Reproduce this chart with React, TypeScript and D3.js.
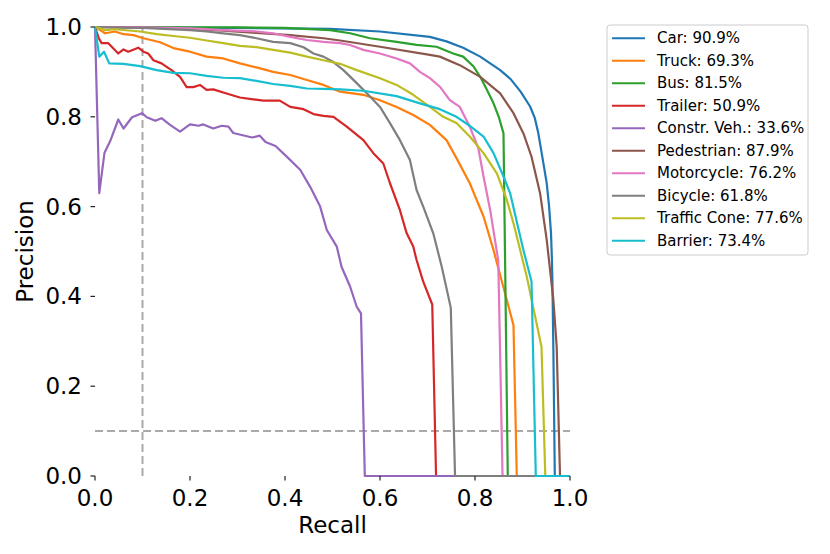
import * as d3 from "d3";

type Pt = [number, number];

// [recall, precision]
const car: Pt[] = [
  [0, 1], [0.1, 0.999], [0.3, 0.998], [0.495, 0.996], [0.6, 0.99], [0.705, 0.978],
  [0.74, 0.968], [0.775, 0.954], [0.811, 0.934], [0.853, 0.904], [0.875, 0.884],
  [0.896, 0.856], [0.916, 0.823], [0.926, 0.797], [0.933, 0.765], [0.939, 0.728],
  [0.945, 0.69], [0.951, 0.652], [0.956, 0.6], [0.96, 0.541], [0.962, 0.48],
  [0.963, 0.43], [0.965, 0.281], [0.968, 0], [1, 0],
];
const truck: Pt[] = [
  [0, 1], [0.011, 0.993], [0.021, 0.986], [0.042, 0.99], [0.06, 0.984], [0.081, 0.982],
  [0.102, 0.975], [0.137, 0.966], [0.165, 0.953], [0.2, 0.945], [0.235, 0.934],
  [0.27, 0.93], [0.305, 0.919], [0.34, 0.91], [0.375, 0.9], [0.411, 0.893],
  [0.446, 0.882], [0.481, 0.871], [0.516, 0.856], [0.565, 0.849], [0.6, 0.837],
  [0.635, 0.822], [0.67, 0.804], [0.705, 0.782], [0.74, 0.748], [0.761, 0.708],
  [0.789, 0.652], [0.818, 0.578], [0.839, 0.503], [0.867, 0.392], [0.881, 0.336],
  [0.888, 0], [1, 0],
];
const bus: Pt[] = [
  [0, 1], [0.1, 0.999], [0.3, 0.999], [0.4, 0.998], [0.495, 0.993], [0.537, 0.986],
  [0.579, 0.975], [0.635, 0.967], [0.677, 0.96], [0.719, 0.956], [0.754, 0.941],
  [0.775, 0.934], [0.797, 0.912], [0.811, 0.889], [0.825, 0.86], [0.839, 0.83],
  [0.85, 0.8], [0.86, 0.763], [0.869, 0], [1, 0],
];
const trailer: Pt[] = [
  [0, 1], [0.008, 0.975], [0.014, 0.964], [0.028, 0.964], [0.049, 0.941], [0.06, 0.95],
  [0.07, 0.945], [0.091, 0.954], [0.102, 0.945], [0.112, 0.941], [0.123, 0.926],
  [0.14, 0.919], [0.161, 0.904], [0.179, 0.889], [0.193, 0.866], [0.207, 0.866],
  [0.221, 0.871], [0.235, 0.86], [0.249, 0.861], [0.277, 0.852], [0.305, 0.843],
  [0.333, 0.839], [0.354, 0.836], [0.389, 0.836], [0.411, 0.822], [0.439, 0.817],
  [0.46, 0.806], [0.481, 0.802], [0.502, 0.8], [0.53, 0.778], [0.565, 0.748],
  [0.586, 0.719], [0.607, 0.696], [0.621, 0.652], [0.642, 0.592], [0.656, 0.541],
  [0.67, 0.511], [0.677, 0.481], [0.691, 0.433], [0.71, 0.382], [0.718, 0], [1, 0],
];
const constrVeh: Pt[] = [
  [0, 1], [0.009, 0.63], [0.02, 0.72], [0.032, 0.746], [0.049, 0.794], [0.06, 0.774],
  [0.078, 0.799], [0.099, 0.808], [0.109, 0.799], [0.127, 0.791], [0.14, 0.797],
  [0.158, 0.782], [0.179, 0.767], [0.2, 0.783], [0.218, 0.78], [0.228, 0.783],
  [0.249, 0.774], [0.267, 0.78], [0.281, 0.778], [0.291, 0.764], [0.331, 0.754],
  [0.347, 0.758], [0.359, 0.744], [0.38, 0.735], [0.402, 0.713], [0.432, 0.682],
  [0.453, 0.644], [0.474, 0.6], [0.488, 0.548], [0.509, 0.511], [0.519, 0.466],
  [0.537, 0.422], [0.551, 0.377], [0.56, 0.362], [0.568, 0], [1, 0],
];
const pedestrian: Pt[] = [
  [0, 1], [0.1, 0.999], [0.2, 0.995], [0.27, 0.992], [0.34, 0.987], [0.411, 0.982],
  [0.481, 0.975], [0.516, 0.97], [0.6, 0.956], [0.705, 0.938], [0.726, 0.934],
  [0.768, 0.915], [0.811, 0.889], [0.853, 0.852], [0.881, 0.808], [0.902, 0.763],
  [0.919, 0.711], [0.937, 0.63], [0.951, 0.526], [0.965, 0.392], [0.972, 0.288],
  [0.979, 0], [1, 0],
];
const motorcycle: Pt[] = [
  [0, 1], [0.1, 0.999], [0.2, 0.997], [0.27, 0.993], [0.34, 0.99], [0.375, 0.986],
  [0.411, 0.978], [0.446, 0.971], [0.481, 0.967], [0.516, 0.964], [0.537, 0.96],
  [0.565, 0.949], [0.6, 0.941], [0.635, 0.93], [0.663, 0.919], [0.684, 0.9],
  [0.705, 0.886], [0.726, 0.867], [0.747, 0.837], [0.768, 0.822], [0.789, 0.778],
  [0.807, 0.73], [0.818, 0.667], [0.832, 0.592], [0.849, 0.48], [0.858, 0], [1, 0],
];
const bicycle: Pt[] = [
  [0, 1], [0.1, 0.998], [0.2, 0.993], [0.235, 0.99], [0.27, 0.986], [0.305, 0.982],
  [0.34, 0.975], [0.375, 0.967], [0.411, 0.964], [0.439, 0.955], [0.46, 0.941],
  [0.481, 0.934], [0.502, 0.922], [0.523, 0.904], [0.551, 0.875], [0.579, 0.845],
  [0.6, 0.822], [0.621, 0.786], [0.642, 0.748], [0.663, 0.704], [0.677, 0.637],
  [0.691, 0.6], [0.712, 0.541], [0.73, 0.466], [0.749, 0.375], [0.758, 0], [1, 0],
];
const trafficCone: Pt[] = [
  [0, 1], [0.011, 0.997], [0.021, 0.993], [0.042, 0.995], [0.095, 0.99], [0.13, 0.984],
  [0.165, 0.98], [0.2, 0.976], [0.235, 0.97], [0.27, 0.964], [0.305, 0.958],
  [0.34, 0.955], [0.375, 0.949], [0.411, 0.943], [0.446, 0.934], [0.481, 0.926],
  [0.516, 0.918], [0.551, 0.904], [0.6, 0.886], [0.635, 0.871], [0.67, 0.849],
  [0.705, 0.822], [0.733, 0.8], [0.761, 0.786], [0.789, 0.756], [0.818, 0.719],
  [0.846, 0.674], [0.867, 0.615], [0.881, 0.563], [0.909, 0.444], [0.94, 0.288],
  [0.948, 0], [1, 0],
];
const barrier: Pt[] = [
  [0, 1], [0.009, 0.934], [0.019, 0.945], [0.03, 0.919], [0.06, 0.918], [0.095, 0.913],
  [0.13, 0.904], [0.165, 0.898], [0.2, 0.897], [0.235, 0.891], [0.27, 0.887],
  [0.305, 0.886], [0.34, 0.88], [0.375, 0.873], [0.411, 0.869], [0.446, 0.863],
  [0.481, 0.862], [0.516, 0.861], [0.565, 0.858], [0.635, 0.846], [0.684, 0.83],
  [0.726, 0.817], [0.761, 0.8], [0.789, 0.78], [0.818, 0.756], [0.839, 0.719],
  [0.86, 0.667], [0.874, 0.63], [0.902, 0.503], [0.919, 0.433], [0.928, 0], [1, 0],
];

const classNames = [
  "Car", "Truck", "Bus", "Trailer", "Constr. Veh.",
  "Pedestrian", "Motorcycle", "Bicycle", "Traffic Cone", "Barrier",
];
const apValues = [90.9, 69.3, 81.5, 50.9, 33.6, 87.9, 76.2, 61.8, 77.6, 73.4];
const curves = [
  car, truck, bus, trailer, constrVeh,
  pedestrian, motorcycle, bicycle, trafficCone, barrier,
];
const ticks = [0, 0.2, 0.4, 0.6, 0.8, 1.0];
const minRecall = 0.1;
const minPrecision = 0.1;

const colors = d3.schemeCategory10;
const font = "DejaVu Sans";

const App = () => {
  const width = 830;
  const height = 554;
  const margin = { left: 95, right: 260, top: 27, bottom: 78 };

  const x = d3.scaleLinear().domain([0, 1]).range([margin.left, width - margin.right]);
  const y = d3.scaleLinear().domain([0, 1]).range([height - margin.bottom, margin.top]);

  const line = d3
    .line<Pt>()
    .x((d) => x(d[0]))
    .y((d) => y(d[1]));

  const legendX = 607;
  const legendY = 25;
  const rowH = 22.5;

  return (
    <svg
      width={width}
      height={height}
      style={{ position: "absolute", left: 0, top: 0 }}
      fontFamily={font}
    >
      <rect width={width} height={height} fill="white" />

      {/* threshold guides */}
      <line
        x1={x(minRecall)}
        x2={x(minRecall)}
        y1={y(0)}
        y2={y(1)}
        stroke="#aaaaaa"
        strokeWidth={2}
        strokeDasharray="8,4"
      />
      <line
        x1={x(0)}
        x2={x(1)}
        y1={y(minPrecision)}
        y2={y(minPrecision)}
        stroke="#aaaaaa"
        strokeWidth={2}
        strokeDasharray="8,4"
      />

      {curves.map((c, i) => (
        <path
          key={classNames[i]}
          d={line(c) ?? ""}
          fill="none"
          stroke={colors[i]}
          strokeWidth={2.2}
          strokeLinejoin="round"
        />
      ))}

      {/* x axis */}
      {ticks.map((t) => (
        <g key={"x" + t}>
          <line x1={x(t)} x2={x(t)} y1={y(0)} y2={y(0) + 4.5} stroke="#222" strokeWidth={1.2} />
          <text x={x(t)} y={506} textAnchor="middle" fontSize={23}>
            {t.toFixed(1)}
          </text>
        </g>
      ))}
      <text x={(x(0) + x(1)) / 2} y={533} textAnchor="middle" fontSize={23}>
        Recall
      </text>

      {/* y axis */}
      {ticks.map((t) => (
        <g key={"y" + t}>
          <line x1={x(0) - 4.5} x2={x(0)} y1={y(t)} y2={y(t)} stroke="#222" strokeWidth={1.2} />
          <text x={82} y={y(t)} textAnchor="end" dominantBaseline="central" fontSize={23}>
            {t.toFixed(1)}
          </text>
        </g>
      ))}
      <text
        transform={`translate(33,${(y(0) + y(1)) / 2}) rotate(-90)`}
        textAnchor="middle"
        fontSize={23}
      >
        Precision
      </text>

      {/* legend */}
      <rect
        x={legendX}
        y={legendY}
        width={201}
        height={230}
        rx={3}
        fill="white"
        stroke="#cccccc"
        strokeWidth={1}
      />
      {classNames.map((name, i) => {
        const cy = legendY + 13.3 + i * rowH;
        return (
          <g key={"l" + name}>
            <line x1={612} x2={645} y1={cy} y2={cy} stroke={colors[i]} strokeWidth={2.1} />
            <text x={657} y={cy} dominantBaseline="central" fontSize={15}>
              {`${name}: ${apValues[i].toFixed(1)}%`}
            </text>
          </g>
        );
      })}
    </svg>
  );
};

export default App;
